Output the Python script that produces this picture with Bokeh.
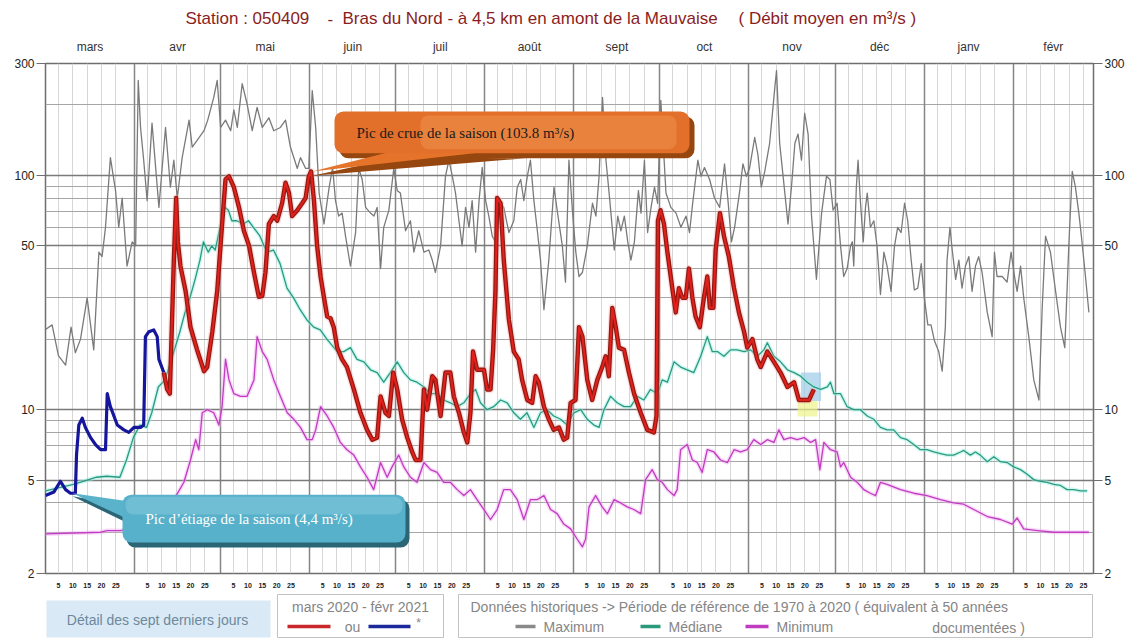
import math
from bokeh.plotting import figure
from bokeh.models import (Range1d, FixedTicker, LinearAxis, LogAxis, Grid, Label,
                          BoxAnnotation, PolyAnnotation, NumeralTickFormatter)
from bokeh.layouts import column
from bokeh.embed import file_html
from bokeh.resources import INLINE
from bokeh.core.properties import value

# ---------------- data ----------------
title_station = "Station : 050409"
title_dash = "-"
title_river = "Bras du Nord - à 4,5 km en amont de la Mauvaise"
title_unit = "( Débit moyen en m³/s )"

months = ["mars", "avr", "mai", "juin", "juil", "août", "sept", "oct", "nov", "déc", "janv", "févr"]
month_lengths = [31, 30, 31, 30, 31, 31, 30, 31, 30, 31, 31, 28]
day_tick_labels = [5, 10, 15, 20, 25]
y_tick_values = [2, 5, 10, 50, 100, 300]
y_major_lines = [5, 10, 50, 100]
y_minor_lines = [3, 4, 6, 7, 8, 9, 20, 30, 40, 60, 70, 80, 90, 200]

max_days = [0, 2.3, 4.5, 7, 8.9, 10.4, 12.2, 14.5, 16.8, 18.6,
            19.7, 20.9, 22.6, 24.4, 25.5, 26.7, 28.4, 30.2, 31.4, 32.3,
            33.1, 34.2, 35.4, 37.1, 39.5, 41.8, 43.5, 44.7, 45.9, 47.6,
            50, 51.1, 52.8, 55.2, 56.5, 58.6, 59.8, 61, 62.7, 64.5,
            65.6, 66.8, 68.5, 70.2, 72, 73.7, 75.5, 77.8, 79.5, 81.8,
            83.6, 85.3, 87.7, 88.8, 90.6, 91.7, 92.9, 94.1, 95.3, 97,
            98.8, 100, 101, 102.1, 103.3, 104.5, 106.2, 108, 109.1, 110.3,
            111.5, 113.2, 114.4, 115.5, 116.7, 117.8, 119.6, 121.3, 122.5, 123.6,
            125.4, 127.1, 128.3, 130, 131.8, 133.5, 134.7, 135.8, 137.6, 139.3,
            140.5, 141.7, 142.8, 144, 145.1, 146.3, 147.5, 148.6, 149.8, 151,
            152.1, 153.3, 154.4, 155.6, 156.7, 158.5, 159.6, 161.4, 163.1, 164.3,
            165.5, 166.6, 167.8, 168.9, 170.1, 171.3, 172.4, 173.6, 175.3, 177.1,
            178.2, 180, 181.1, 182.3, 183.5, 184.7, 185.8, 187, 188.7, 190.5,
            191.7, 192.8, 194, 195.2, 196.3, 198.1, 199.3, 200.4, 201.6, 202.8,
            203.9, 205.1, 206.5, 207.4, 208.6, 209.7, 210.9, 212.1, 213.2, 214.3,
            216.1, 217.8, 219.6, 221.3, 223.1, 224.3, 225.4, 227.2, 228.3, 229.5,
            231.3, 233, 234.8, 236.5, 237.7, 238.9, 240, 241.8, 242.9, 244.1,
            245.2, 247, 248.1, 249.3, 250.5, 252.2, 254, 254.6, 255.7, 256.9,
            258.6, 259.8, 261, 262.1, 263.3, 264.4, 265.6, 266.8, 268.5, 270.3,
            272, 273.2, 274.3, 275.7, 276.9, 278, 279.2, 280.4, 281, 281.5,
            282.4, 283, 283.8, 284.8, 285.6, 286.2, 287.3, 288.5, 289.6, 290.8,
            292, 293.1, 294.5, 295.7, 296.8, 298, 299.2, 300.3, 301.5, 302.6,
            303.8, 305, 306.1, 307.3, 308.4, 309.6, 311.1, 312.3, 313.4, 314,
            315, 315.8, 317, 318.1, 319.2, 320.4, 321.6, 322.7, 323.9, 325,
            326.2, 328, 329.7, 330.5, 331.4, 333.2, 334.9, 336.3, 337.5, 338.4,
            339.6, 340.7, 342.5, 344.2, 346, 347.1, 348.3, 350, 351.8, 353.5,
            355, 356.4, 357.6, 358.7, 359.9, 361, 362.2, 363.4]
max_vals = [22, 23, 17, 15.5, 22.5, 17.5, 20, 30, 18, 47,
            45, 60, 119, 86, 60, 80, 41, 52, 50, 254,
            160, 116, 78, 167, 73, 160, 89, 116, 80, 119,
            172, 132, 141, 155, 172, 215, 254, 160, 172, 155,
            190, 160, 246, 202, 155, 195, 160, 176, 155, 160,
            172, 132, 107, 119, 107, 107, 230, 160, 84, 62,
            89, 108, 78, 67, 69, 55, 41, 57, 107, 96,
            73, 69, 67, 73, 40, 60, 71, 107, 86, 84,
            58, 64, 47, 58, 47, 48, 43.5, 38.5, 50, 99,
            116, 99, 84, 64, 50, 73, 60, 78, 47, 78,
            108, 78, 67, 55, 52, 76, 73, 57, 64, 89,
            96, 78, 99, 116, 78, 58, 43.5, 26.7, 43.5, 89,
            71, 50, 35, 116, 71, 47, 37, 38.5, 50, 76,
            67, 99, 215, 116, 84, 48, 67, 58, 67, 52,
            43.5, 52, 86, 69, 116, 57, 73, 89, 76, 209,
            84, 73, 69, 60, 67, 57, 76, 116, 99, 108,
            96, 80, 73, 112, 78, 52, 60, 86, 112, 99,
            107, 145, 123, 89, 104, 137, 236, 280, 137, 99,
            62, 89, 137, 150, 116, 184, 150, 67, 36, 69,
            99, 96, 71, 76, 50, 37, 40, 50, 52, 41,
            89, 116, 78, 52, 73, 84, 60, 64, 50, 31,
            47, 41, 32, 50, 60, 57, 76, 64, 43.5, 32.4,
            33, 42, 30, 23, 23, 19.7, 17.7, 14.6, 22.5, 43.5,
            60, 48, 36, 43.5, 33, 41, 45, 32, 41, 45,
            38.5, 26, 20.5, 47, 37, 37, 35, 47, 37, 32,
            41, 30, 20.3, 13.4, 11, 26.7, 55, 47, 32, 22.5,
            18.4, 50, 104, 89, 69, 52, 37, 26]

med_days = [0, 9.7, 13.1, 17.8, 21.3, 25.9, 28.2, 30.6, 32.9, 35.2,
            37, 39.3, 41.6, 43.9, 46.8, 48.6, 50.3, 52.1, 53.8, 55,
            56.7, 57.9, 59.1, 60.8, 62.5, 63.7, 64.9, 66.6, 68.9, 70.7,
            72.4, 74.7, 77.1, 79.4, 81.7, 84.1, 86.4, 88.7, 91, 93.4,
            95.7, 98, 101.6, 103.9, 106.2, 108.5, 110.9, 113.2, 115.5, 117.8,
            120.1, 122.5, 124.8, 127.1, 129.4, 131.8, 134.1, 136.4, 138.7, 141,
            143.4, 145.7, 148, 149.8, 151.5, 153.8, 156.1, 158.5, 160.8, 163.1,
            165.4, 167.7, 170.1, 172.4, 174.7, 177, 179.4, 181.7, 184, 186.4,
            188.7, 191, 192.8, 194.5, 196.8, 199.1, 201.5, 203.8, 206.1, 208.4,
            210.7, 213.1, 214.8, 216.6, 218.9, 221.2, 223.5, 225.8, 228.2, 230.5,
            232.2, 234, 236.3, 238.6, 240.9, 243.3, 245.6, 247.9, 250.2, 251.4,
            253.7, 256, 258.4, 260.7, 263, 265.3, 267.6, 270, 272.3, 273.4,
            274.6, 276.9, 279.2, 281.5, 283.8, 286.2, 288.5, 290.8, 293.1, 295.4,
            297.8, 300.1, 302.4, 304.7, 307, 309.4, 311.7, 314, 316.3, 318.7,
            319.8, 322.1, 323.9, 325.6, 328, 330.3, 332.6, 334.9, 337.2, 339.6,
            341.9, 344.2, 346.5, 348.9, 351.2, 353.5, 355.8, 358.1, 360.5, 362.8]
med_vals = [4.5, 4.8, 4.95, 5.15, 5.2, 5.15, 6.1, 7.6, 8.6, 8.4,
            9.7, 12.5, 13.4, 16.4, 21.5, 26, 30, 36, 43.5, 52,
            47, 50, 48, 60, 73, 71, 64, 64, 62, 64,
            60, 55, 47, 48, 42, 33, 30, 26.7, 24.2, 22.5,
            21.9, 20, 17.7, 17.7, 18.4, 16.4, 16, 14.8, 14.4, 13.1,
            14.4, 16, 14.4, 13.4, 13.1, 12.5, 11.7, 11.7, 11, 10.7,
            10.3, 10.7, 11.7, 12.2, 10.7, 10, 10.3, 11, 10.7, 9.7,
            9.1, 9.7, 8.4, 9.7, 10, 9.4, 9.1, 8.6, 9.7, 10,
            9.1, 8.6, 8.4, 10, 11.4, 10.7, 10.3, 10.3, 11.4, 11,
            12.2, 11.7, 13.4, 13.1, 16, 15.2, 14.8, 14.4, 16.9, 20.5,
            17.7, 17.7, 16.9, 18, 18, 17.7, 18, 16.9, 18, 19.3,
            16.9, 16, 14.8, 14.4, 13.9, 13.1, 12.5, 12.2, 12.5, 13.1,
            11.7, 11.7, 10.3, 10, 10, 9.4, 9.1, 8.4, 8.2, 8.2,
            7.6, 7.45, 7.1, 6.75, 6.75, 6.6, 6.5, 6.4, 6.4, 6.6,
            6.7, 6.4, 6.6, 6.4, 6.0, 6.3, 6.0, 5.95, 5.7, 5.55,
            5.3, 5.03, 4.95, 4.9, 4.8, 4.75, 4.56, 4.56, 4.5, 4.5]

min_days = [0, 19.2, 21.5, 26.1, 29.6, 35.4, 40, 44.7, 48.2, 50.5,
            52.3, 53.4, 54.6, 56.3, 58.6, 60.4, 61.5, 62.7, 63.9, 65.6,
            67.9, 70.2, 72.6, 73.7, 75.5, 77.2, 79.5, 81.8, 84.2, 86.5,
            88.8, 91.1, 92.9, 94.1, 95.8, 98.1, 100.4, 102.7, 105, 107.4,
            109.7, 112, 114.3, 116.7, 119, 120.7, 123, 124.8, 127.1, 129.4,
            131.8, 134.1, 136.4, 138.7, 141, 143.4, 145.7, 148, 150.3, 152.7,
            155, 157.3, 159.6, 161.9, 164.3, 166.6, 168.9, 171.2, 173.6, 175.9,
            178.2, 180.5, 182.9, 185.2, 187, 188.1, 189.3, 191.6, 193.9, 195.7,
            198, 200.3, 202.6, 204.9, 207.3, 209, 211.3, 213.1, 214.8, 216.6,
            218.9, 220, 221.2, 223.5, 225.3, 227, 228.7, 230.5, 232.8, 235.1,
            237.5, 239.8, 242.1, 244.4, 246.7, 249.1, 251.4, 253.7, 255.4, 257.2,
            259.5, 261.8, 264.2, 266.5, 268.2, 269.7, 271.1, 273.4, 275.7, 276.9,
            278, 280.4, 282.7, 285, 287.3, 289.1, 290.8, 293.1, 297.8, 302.4,
            307, 311.7, 316.3, 319.8, 323.3, 328, 332.6, 336.7, 338.4, 340.7,
            345.4, 351.2, 357, 363.4]
min_vals = [2.95, 3.0, 3.05, 3.05, 3.1, 3.4, 3.6, 4.13, 4.9, 6.1,
            7.45, 6.75, 9.7, 10, 9.7, 8.6, 10.3, 16.4, 13.4, 11.7,
            11.4, 11.4, 13.4, 20.5, 17.7, 16.4, 13.4, 11.4, 9.7, 9.1,
            8.4, 7.45, 7.45, 8.2, 10.3, 9.4, 8.4, 7.25, 6.75, 6.4,
            5.7, 5.15, 4.56, 5.95, 5.15, 5.7, 6.4, 5.7, 5.15, 4.9,
            5.95, 5.55, 5.4, 4.9, 4.9, 4.56, 4.3, 4.56, 4.13, 3.75,
            3.4, 3.75, 4.56, 4.56, 4.13, 3.4, 4.13, 4.13, 4.3, 3.75,
            3.6, 3.25, 3.1, 2.8, 2.6, 2.8, 3.85, 4.3, 3.85, 3.6,
            4.13, 4.0, 3.85, 3.75, 3.6, 5.03, 5.55, 5.03, 4.9, 4.56,
            4.3, 4.56, 6.75, 7.1, 6.1, 5.95, 5.4, 6.75, 6.6, 6.1,
            5.95, 6.75, 6.6, 6.75, 7.45, 7.1, 7.45, 7.25, 8.2, 7.45,
            7.6, 7.45, 7.6, 7.25, 7.45, 5.55, 7.25, 6.75, 6.6, 5.7,
            5.95, 5.15, 4.9, 4.56, 4.4, 4.3, 4.9, 4.8, 4.56, 4.4,
            4.3, 4.13, 4.0, 3.95, 3.75, 3.5, 3.4, 3.25, 3.45, 3.1,
            3.05, 3.0, 3.0, 3.0]

blue_days = [0, 2.9, 5.2, 7, 8.7, 10.4, 10.8, 11.6, 12.8, 13.9,
             15.7, 17.4, 19.2, 20.9, 21.5, 22.6, 25, 27.3, 29, 30.8,
             33.1, 34.2, 34.8, 36, 37.7, 38.9, 39.5, 41.2]
blue_vals = [4.3, 4.45, 4.95, 4.56, 4.4, 4.4, 6.4, 8.6, 9.2, 8.4,
             7.6, 7.1, 6.75, 6.75, 11.7, 10.3, 8.6, 8.2, 8.0, 8.4,
             8.4, 8.6, 20.5, 21.5, 21.9, 20.5, 16.4, 14.4]

red_days = [41.2, 42.4, 43.3, 44.7, 45.5, 46.1, 47, 48.8, 50.5, 52.8,
            55.2, 56.3, 58.1, 59.8, 61.6, 62.7, 63.9, 65.6, 67.4, 69.1,
            70.9, 72.6, 74.3, 75.5, 76.6, 77.8, 79.5, 80.7, 82.4, 83.6,
            84.8, 85.9, 87.7, 89.4, 90.6, 91.7, 92.5, 93.5, 94.6, 95.8,
            97, 98.1, 99.3, 100.4, 101.6, 103.3, 105, 107.4, 109.7, 112,
            113.8, 115.5, 116.7, 118.4, 119.6, 121.1, 122.5, 124.2, 126, 127.7,
            128.9, 130.6, 131.8, 132.9, 134.7, 135.8, 137.6, 139.3, 141, 142.2,
            144, 145.7, 146.9, 148, 148.9, 150.3, 152.7, 153.8, 155, 155.9,
            156.7, 157.3, 158.5, 159.6, 161.4, 163.1, 164.8, 166, 167.8, 169.5,
            170.7, 171.8, 173.6, 175.3, 177, 178.8, 180.5, 181.7, 182.9, 184.6,
            185.8, 187, 188.7, 190.4, 192.2, 193.9, 195.1, 196.2, 197.4, 198.6,
            199.7, 201.5, 203.2, 205, 207.3, 209.6, 211.9, 212.8, 213.3, 214.2,
            215.4, 216.6, 218.3, 219.5, 220.6, 221.8, 223, 224.1, 225.3, 226.4,
            227.9, 229.3, 230.5, 231.4, 232.6, 233.4, 234.9, 236.3, 238, 239.8,
            241.5, 243.3, 244.4, 246.2, 247.9, 249.1, 251.4, 253.7, 256, 258.4,
            260.7, 262.4, 264.2, 265.9, 267.6]
red_vals = [14.4, 12.2, 11.7, 43.5, 80, 52, 41, 32, 22.5, 18,
            14.6, 15.2, 21.5, 32, 64, 96, 99, 89, 73, 58,
            50, 38.5, 30.3, 30.6, 38.5, 62, 67, 64, 76, 93,
            84, 67, 71, 76, 80, 99, 103.8, 78, 50, 37,
            30, 25, 24.5, 22.5, 18.4, 16.4, 15.2, 12.2, 9.7, 8.2,
            7.45, 7.6, 11.4, 9.7, 9.4, 14.4, 12.2, 9.1, 7.6, 6.6,
            6.1, 6.1, 12.2, 10, 13.9, 13.4, 9.4, 14.4, 14.4, 11.4,
            9.7, 8.0, 7.25, 9.7, 17.7, 14.8, 14.8, 12.2, 12.2, 18,
            32, 80, 76, 43.5, 24.2, 17.7, 16.4, 13.4, 11, 10.7,
            13.9, 13.1, 10.3, 9.1, 8.2, 8.4, 7.45, 7.6, 10.7, 11,
            22.5, 20.5, 13.4, 11, 13.4, 15.2, 16.9, 13.9, 27.2, 22.5,
            18.4, 18, 14.4, 11.7, 9.7, 8.2, 8.0, 9.4, 64, 71,
            62, 47, 33, 26, 33, 30, 30, 40, 30, 25,
            22.5, 30, 37, 27.2, 27.2, 48, 69, 55, 45, 33,
            26, 21.5, 18.4, 20, 16.4, 15.2, 17.7, 16, 14.4, 12.5,
            13.1, 11, 11, 11, 12.2]

peak_flood = (92.5, 103.8)
peak_low = (9.4, 4.4)
flood_text = "Pic de crue de la saison (103.8 m³/s)"
low_text = "Pic d’étiage de la saison (4,4 m³/s)"

# ---------------- geometry (page px; the page is rendered without offset) ----------------
W = 1134
TITLE_H = 30
MAIN_H = 560
LEG_H = 48
PX_L, PX_R, PX_T, PX_B = 45.0, 1093.0, 63.0, 574.0
LOG_TOP = math.log10(300.0)
LOG_SPAN = math.log10(300.0 / 2.0)


def px_x(px):
    return (px - PX_L) / (PX_R - PX_L) * 365.0


def px_y(py):
    return 10 ** (LOG_TOP - (py - PX_T) / (PX_B - PX_T) * LOG_SPAN)


month_starts = [sum(month_lengths[:i]) for i in range(len(month_lengths))]
month_mids = [s + n / 2.0 for s, n in zip(month_starts, month_lengths)]
month_bounds = month_starts[1:]
day_ticks, day_overrides = [], {}
for s in month_starts:
    for d in day_tick_labels:
        pos = s + d - 0.5
        day_ticks.append(pos)
        day_overrides[pos] = str(d)

SANS = "Liberation Sans"
SERIF = "Liberation Serif"


def blank_fig(height, y0, y1):
    # the column layout aligns every frame with the main chart frame (page x 45 .. 1093)
    f = figure(width=W, height=height, x_range=Range1d(PX_L, PX_R), y_range=Range1d(y1, y0),
               x_axis_location=None, y_axis_location=None, output_backend="svg",
               toolbar_location=None, min_border=0, min_border_left=0, min_border_right=0,
               min_border_top=0, min_border_bottom=0, outline_line_color=None)
    f.xgrid.visible = False
    f.ygrid.visible = False
    return f


# ---------------- title strip ----------------
tfig = blank_fig(TITLE_H, 0, TITLE_H)
tfig.text(x=[185, 327, 342, 738], y=[18, 18, 18, 18],
          text=[title_station, title_dash, title_river, title_unit],
          text_font=value(SANS), text_font_size="17px", text_color="#8a1d1d",
          text_align="left", text_baseline="middle")

# ---------------- main figure ----------------
p = figure(width=W, height=MAIN_H, x_range=Range1d(0, 365), y_range=Range1d(2, 300),
           y_axis_type="log", output_backend="svg", toolbar_location=None,
           min_border_left=int(PX_L), min_border_right=int(W - PX_R),
           min_border_top=int(PX_T - TITLE_H), min_border_bottom=int(TITLE_H + MAIN_H - PX_B),
           background_fill_color="white", border_fill_color="white")
p.outline_line_color = "#6e6e6e"
p.outline_line_width = 1.5

xa = p.xaxis[0]
xa.ticker = FixedTicker(ticks=day_ticks)
xa.major_label_overrides = day_overrides
xa.axis_line_color = None
xa.major_tick_line_color = None
xa.minor_tick_line_color = None
xa.major_label_standoff = 3
xa.major_label_text_font = SANS
xa.major_label_text_font_size = "7px"
xa.major_label_text_font_style = "bold"
xa.major_label_text_color = "#222222"

top = LinearAxis(ticker=FixedTicker(ticks=month_mids),
                 major_label_overrides={m: n for m, n in zip(month_mids, months)})
top.axis_line_color = None
top.major_tick_line_color = None
top.minor_tick_line_color = None
top.major_label_standoff = 4
top.major_label_text_font = SANS
top.major_label_text_font_size = "12px"
top.major_label_text_color = "#333333"
p.add_layout(top, "above")

ya = p.yaxis[0]
ya.ticker = FixedTicker(ticks=y_tick_values)
ya.formatter = NumeralTickFormatter(format="0")
right = LogAxis(ticker=FixedTicker(ticks=y_tick_values), formatter=NumeralTickFormatter(format="0"))
p.add_layout(right, "right")
for ax in (ya, right):
    ax.axis_line_color = None
    ax.major_tick_out = 9
    ax.major_tick_in = 0
    ax.major_tick_line_color = "#6e6e6e"
    ax.minor_tick_line_color = None
    ax.major_label_standoff = 2
    ax.major_label_text_font = SANS
    ax.major_label_text_font_size = "12px"
    ax.major_label_text_color = "#222222"

p.xgrid.ticker = FixedTicker(ticks=day_ticks)
p.xgrid.grid_line_color = "#d6d6d6"
p.xgrid.grid_line_width = 1
p.ygrid.ticker = FixedTicker(ticks=y_minor_lines)
p.ygrid.grid_line_color = "#a6a6a6"
p.ygrid.grid_line_width = 1
p.add_layout(Grid(dimension=0, ticker=FixedTicker(ticks=month_bounds),
                  grid_line_color="#858585", grid_line_width=1.5))
p.add_layout(Grid(dimension=1, ticker=FixedTicker(ticks=y_major_lines),
                  grid_line_color="#7a7a7a", grid_line_width=1.5))

# last-seven-days highlight
last_day = red_days[-1]
recent = [v for d, v in zip(red_days, red_vals) if d >= last_day - 7]
p.quad(left=[last_day - 5.7], right=[last_day + 1.3], top=[min(recent) * 0.99],
       bottom=[min(recent) * 0.85], fill_color="#eef38c", fill_alpha=0.7, line_color=None)
p.quad(left=[last_day - 4.5], right=[last_day + 2.5], top=[max(recent) * 1.1],
       bottom=[min(recent) * 0.99], fill_color="#9ccbe8", fill_alpha=0.7, line_color=None)

# historical series
p.line(max_days, max_vals, line_color="#7a7a7a", line_width=1.3, line_join="round")
p.line(min_days, min_vals, line_color="#f2a8f2", line_width=4, line_alpha=0.45, line_join="round")
p.line(min_days, min_vals, line_color="#c03cc0", line_width=1.3, line_join="round")
p.line(med_days, med_vals, line_color="#9ff0e8", line_width=4, line_alpha=0.5, line_join="round")
p.line(med_days, med_vals, line_color="#2b9a7c", line_width=1.3, line_join="round")

# current season
p.line(blue_days, blue_vals, line_color="#16169c", line_width=3.2, line_join="round")
p.line(red_days, red_vals, line_color="#f4a0a0", line_width=7, line_alpha=0.35, line_join="round")
p.line(red_days, red_vals, line_color="#8e1a12", line_width=4.4, line_join="round")
p.line(red_days, red_vals, line_color="#e3201c", line_width=2, line_join="round")

# ---- callout : flood peak ----
fx, fy = peak_flood
p.add_layout(PolyAnnotation(xs=[fx + 0.4, px_x(398), px_x(525)], ys=[fy * 0.96, px_y(157), px_y(158)],
                            fill_color="#96460f", fill_alpha=1, line_color=None))
p.add_layout(BoxAnnotation(left=px_x(339), right=px_x(694), top=px_y(116), bottom=px_y(158),
                           fill_color="#96460f", fill_alpha=1, line_color=None, border_radius=9))
p.add_layout(PolyAnnotation(xs=[fx + 0.4, px_x(388), px_x(482)], ys=[fy, px_y(152), px_y(152)],
                            fill_color="#e5742a", fill_alpha=1, line_color=None))
p.add_layout(BoxAnnotation(left=px_x(334), right=px_x(689), top=px_y(111), bottom=px_y(153),
                           fill_color="#e2702a", fill_alpha=1, line_color=None, border_radius=9))
p.add_layout(BoxAnnotation(left=px_x(420), right=px_x(676), top=px_y(115), bottom=px_y(149),
                           fill_color="#f6a262", fill_alpha=0.35, line_color=None, border_radius=8))
p.add_layout(Label(x=px_x(356), y=px_y(133), text=flood_text, text_font=SERIF,
                   text_font_size="15px", text_color="#1a1a1a", text_baseline="middle"))

# ---- callout : low-flow peak ----
lx, ly = peak_low
p.add_layout(PolyAnnotation(xs=[lx, px_x(126), px_x(126)], ys=[ly * 0.97, px_y(506), px_y(523)],
                            fill_color="#2b6676", fill_alpha=1, line_color=None))
p.add_layout(BoxAnnotation(left=px_x(126), right=px_x(409), top=px_y(500), bottom=px_y(548),
                           fill_color="#2b6676", fill_alpha=1, line_color=None, border_radius=9))
p.add_layout(PolyAnnotation(xs=[lx, px_x(124), px_x(124)], ys=[ly, px_y(501), px_y(518)],
                            fill_color="#5ab3cb", fill_alpha=1, line_color=None))
p.add_layout(BoxAnnotation(left=px_x(122), right=px_x(405), top=px_y(495), bottom=px_y(543),
                           fill_color="#58b1ca", fill_alpha=1, line_color=None, border_radius=9))
p.add_layout(BoxAnnotation(left=px_x(125), right=px_x(402), top=px_y(497), bottom=px_y(515),
                           fill_color="#9ad6e6", fill_alpha=0.35, line_color=None, border_radius=8))
p.add_layout(Label(x=px_x(145), y=px_y(519), text=low_text, text_font=SERIF,
                   text_font_size="15px", text_color="white", text_baseline="middle"))

# ---------------- legend strip (page y 590 .. 638) ----------------
L0 = TITLE_H + MAIN_H
leg = blank_fig(LEG_H, L0, L0 + LEG_H)

leg.quad(left=[46], right=[270], top=[600], bottom=[637], fill_color="#d9eaf6", line_color=None)
leg.quad(left=[277, 458], right=[443, 1092], top=[594, 594], bottom=[637, 637],
         fill_color="white", line_color="#c2c2c2", line_width=1)

gray = "#858585"
leg.text(x=[157], y=[619], text=["Détail des sept derniers jours"], text_font=value(SANS),
         text_font_size="14px", text_color="#6d889c", text_align="center", text_baseline="middle")
leg.text(x=[360], y=[606], text=["mars 2020 - févr 2021"], text_font=value(SANS),
         text_font_size="14px", text_color=gray, text_align="center", text_baseline="middle")
leg.segment(x0=[287], y0=[626], x1=[330], y1=[626], line_color="#c8282a", line_width=3.5)
leg.text(x=[352], y=[626], text=["ou"], text_font=value(SANS), text_font_size="14px",
         text_color=gray, text_align="center", text_baseline="middle")
leg.segment(x0=[368], y0=[626], x1=[410], y1=[626], line_color="#1c2a9c", line_width=3.5)
leg.text(x=[418], y=[622], text=["*"], text_font=value(SANS), text_font_size="12px",
         text_color=gray, text_align="center", text_baseline="middle")

leg.text(x=[470], y=[606],
         text=["Données historiques -> Période de référence  de 1970 à 2020   ( équivalent à 50 années"],
         text_font=value(SANS), text_font_size="14px", text_color=gray, text_align="left",
         text_baseline="middle")
leg.segment(x0=[515, 640, 745], y0=[626, 626, 626], x1=[535, 660, 768], y1=[626, 626, 626],
            line_color=["#8a8a8a", "#2b9a7c", "#c03cc0"], line_width=3.5)
leg.text(x=[543, 668, 776], y=[626, 626, 626], text=["Maximum", "Médiane", "Minimum"],
         text_font=value(SANS), text_font_size="14px", text_color=gray, text_align="left",
         text_baseline="middle")
leg.text(x=[978], y=[627], text=["documentées )"], text_font=value(SANS), text_font_size="14px",
         text_color=gray, text_align="center", text_baseline="middle")

layout = column(tfig, p, leg, spacing=0)
open("out.html", "w").write(file_html(layout, INLINE))
